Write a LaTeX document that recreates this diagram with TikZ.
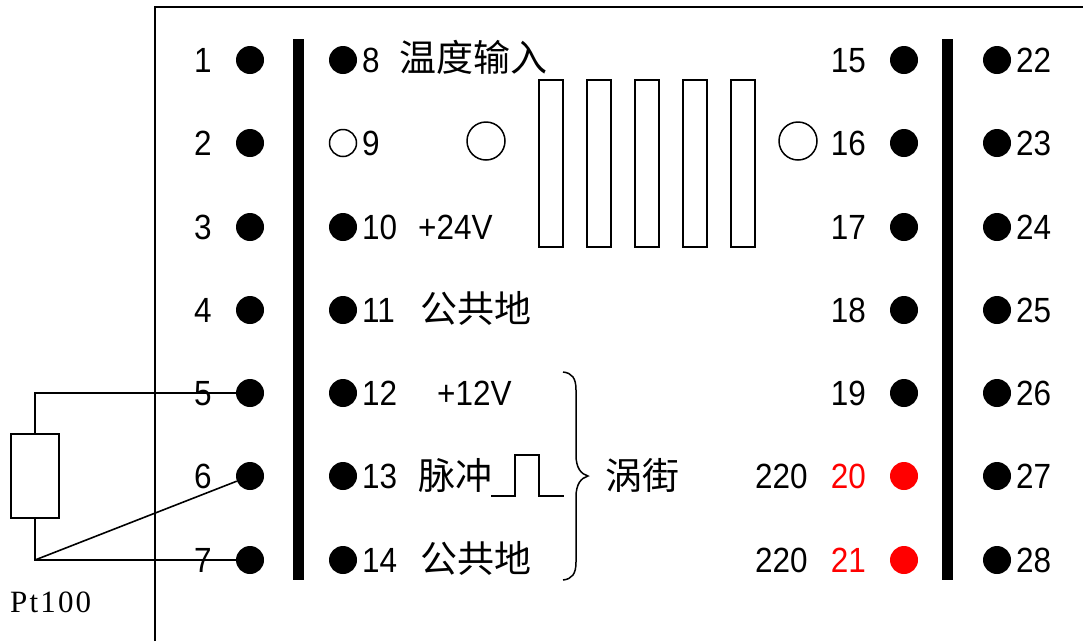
\documentclass[tikz,border=0pt]{standalone}
\usepackage{fontspec}
\setmainfont[FakeStretch=0.9]{Liberation Sans}
\newfontfamily\cjk{Noto Sans CJK SC}
\newfontfamily\serifpt{Liberation Serif}
\tikzset{
 pin/.style={circle,fill=black,inner sep=0pt,minimum size=28pt},
 redpin/.style={pin,fill=red},
 holepin/.style={circle,draw=black,line width=1.5pt,inner sep=0pt,minimum size=38pt},
 slot/.style={draw=black,line width=1.5pt,inner sep=0pt,minimum width=24pt,minimum height=167pt},
 txt/.style={inner sep=0pt,font=\fontsize{35}{35}\selectfont},
 zh/.style={inner sep=0pt,font=\fontsize{37}{37}\selectfont\cjk},
 wire/.style={draw=black,line width=1.6pt},
 bar/.style={fill=black}
}
\begin{document}
\begin{tikzpicture}[x=1pt,y=-1pt]
 \useasboundingbox (0,0) rectangle (1083,641);
 \draw[line width=1.6pt](155,641)--(155,7)--(1083,7);
 \fill[bar](293,39) rectangle (304,580);
 \fill[bar](942,39) rectangle (953,580);
 % terminals
 \foreach \n/\y in {1/60,2/143,3/227,4/310,5/393,6/476,7/560}{
  \node[pin](t\n) at (250,\y) {};
  \node[txt,anchor=base](n\n) at (203,\y+12) {\n};
 }
 \foreach \n/\y in {8/60,10/227,11/310,12/393,13/476,14/560}{
  \node[pin](t\n) at (343,\y) {};
  \node[txt,anchor=base west](n\n) at (362,\y+12) {\n};
 }
 \node[circle,draw=black,line width=1.5pt,inner sep=0pt,minimum size=27pt](t9) at (343,143) {};
 \node[txt,anchor=base west](n9) at (362,155) {9};
 \foreach \n/\y in {15/60,16/143,17/227,18/310,19/393}{
  \node[pin](t\n) at (904,\y) {};
  \node[txt,anchor=base east](n\n) at (866,\y+12) {\n};
 }
 \foreach \n/\y in {20/476,21/560}{
  \node[redpin](t\n) at (904,\y) {};
  \node[txt,anchor=base east,text=red](n\n) at (866,\y+12) {\n};
 }
 \foreach \n/\y in {22/60,23/143,24/227,25/310,26/393,27/476,28/560}{
  \node[pin](t\n) at (997,\y) {};
  \node[txt,anchor=base west](n\n) at (1016,\y+12) {\n};
 }
 % labels
 \node[zh,anchor=base west](tempin) at (399,71) {温度输入};
 \node[txt,anchor=base west](v24) at (418,239) {+24V};
 \node[zh,anchor=base west](gnda) at (420,322) {公共地};
 \node[txt,anchor=base west](v12) at (437,405) {+12V};
 \node[zh,anchor=base west](pulse) at (418,489) {脉冲};
 \node[zh,anchor=base west](gndb) at (420,572) {公共地};
 \node[zh,anchor=base west](vortex) at (605,489) {涡街};
 \node[txt,anchor=base west](acone) at (755,488) {220};
 \node[txt,anchor=base west](actwo) at (755,572) {220};
 % heat sink
 \foreach \n/\x in {1/551,2/599,3/647,4/695,5/743}{
  \node[slot](slot\n) at (\x,163.5) {};
 }
 \node[holepin](holea) at (486,141) {};
 \node[holepin](holeb) at (798,141) {};
 % pulse and brace
 \draw[line width=1.5pt](491,496)--(515,496)--(515,455)--(539,455)--(539,496)--(564,496);
 \draw[line width=1.5pt](563,372) .. controls (572,373) and (576,378) .. (576,390)
  -- (576,455) .. controls (576,468) and (581,474) .. (588,476)
  .. controls (581,478) and (576,484) .. (576,497)
  -- (576,562) .. controls (576,574) and (572,579) .. (563,580);
 % sensor
 \node[draw=black,line width=1.5pt,inner sep=0pt,minimum width=48pt,minimum height=84pt](rtd) at (35,476) {};
 \coordinate (jn) at (35,560);
 \draw[wire](rtd.north) |- (t5);
 \draw[wire](rtd.south)--(jn)--(t7);
 \draw[wire](jn)--(t6);
 \node[inner sep=0pt,anchor=base west,font=\fontsize{31}{31}\selectfont\serifpt\addfontfeature{LetterSpace=7}](pt) at (10,612) {Pt100};
\end{tikzpicture}
\end{document}
